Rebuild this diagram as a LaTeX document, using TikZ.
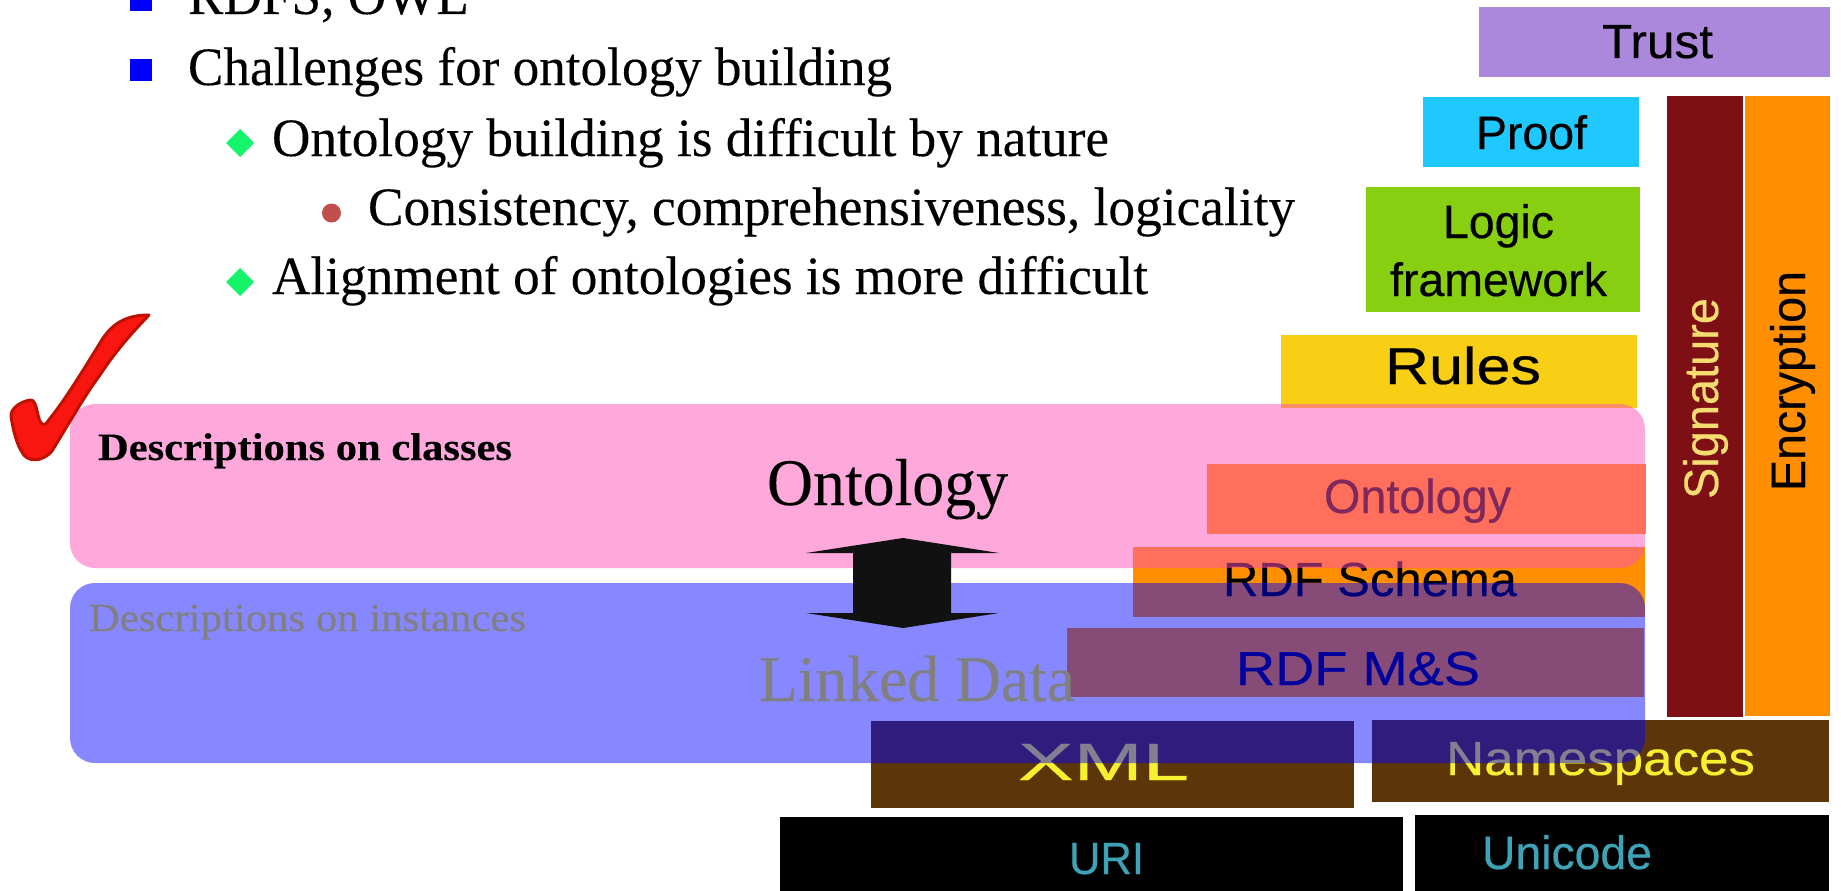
\documentclass[tikz,border=0pt]{standalone}
\usepackage{fontspec}
\usepackage{graphicx}
\setmainfont[FakeBold=0.15]{Liberation Serif}
\newfontfamily\arl[FakeBold=0.4]{Liberation Sans}
\newcommand{\fsz}[1]{\fontsize{#1}{#1}\selectfont}
\newcommand{\fitw}[3]{\resizebox{#1pt}{#2\height}{#3}}
\definecolor{trustc}{HTML}{AC88DC}
\definecolor{proofc}{HTML}{1FC8FF}
\definecolor{logicc}{HTML}{88CF12}
\definecolor{rulesc}{HTML}{F8CF14}
\definecolor{sigc}{HTML}{7E0F14}
\definecolor{orgc}{HTML}{FF8F00}
\definecolor{brownc}{HTML}{5C3608}
\definecolor{pinkc}{HTML}{FF51B9}
\definecolor{sigtxt}{HTML}{F5DC70}
\definecolor{xmltxt}{HTML}{F7F030}
\definecolor{tealtxt}{HTML}{3FA3B8}
\definecolor{greentick}{HTML}{14F56A}
\definecolor{redbullet}{HTML}{C0504D}
\definecolor{tickfill}{HTML}{FA1610}
\definecolor{tickedge}{HTML}{C01000}
\definecolor{arrowc}{HTML}{111111}
\tikzset{
  txt/.style={inner sep=0pt,outer sep=0pt,anchor=base west,text=black},
  body/.style={txt,font=\fsz{53}},
  sans/.style={txt,font=\arl\fsz{46}},
  overlay/.style={rounded corners=25pt,opacity=#1},
  sq/.style={fill=blue},
  dia/.style={fill=greentick},
}
\begin{document}
\begin{tikzpicture}[x=1pt,y=-1pt]
\useasboundingbox (0,0) rectangle (1841,891);
% stack boxes
\fill[trustc] (1479,7) rectangle (1830,77);
\fill[proofc] (1423,97) rectangle (1639,167);
\fill[logicc] (1366,187) rectangle (1640,312);
\fill[rulesc] (1281,335) rectangle (1637,408);
\fill[sigc] (1667,96) rectangle (1743,717);
\fill[orgc] (1745,96) rectangle (1830,716);
\fill[orgc] (1207,464) rectangle (1646,534);
\fill[orgc] (1133,547) rectangle (1645,617);
\fill[orgc] (1067,628) rectangle (1644,697);
\fill[brownc] (871,721) rectangle (1354,808);
\fill[brownc] (1372,720) rectangle (1829,802);
\fill[black] (780,817) rectangle (1403,891);
\fill[black] (1415,815) rectangle (1829,891);
% stack labels
\node[sans] (ttrust) at (1602,58) {\fitw{111}{1.04}{Trust}};
\node[sans,font=\arl\fsz{45}] (tproof) at (1476,149) {\fitw{111}{1.04}{Proof}};
\node[sans,font=\arl\fsz{45}] (tlogic) at (1443,238) {\fitw{111}{1.04}{Logic}};
\node[sans,font=\arl\fsz{45}] (tframe) at (1390,296) {\fitw{217}{1.04}{framework}};
\node[sans,font=\arl\fsz{49}] (trules) at (1385,384) {\fitw{156}{1.06}{Rules}};
\node[sans,rotate=90,text=sigtxt] (tsig) at (1718,499) {\fitw{201}{1.05}{Signature}};
\node[sans,rotate=90] (tenc) at (1805,491) {\fitw{220}{1.05}{Encryption}};
\node[sans] (tont) at (1324,513) {\fitw{187}{1.04}{Ontology}};
\node[sans] (tschema) at (1223,596) {\fitw{294}{1.04}{RDF Schema}};
\node[sans,font=\arl\fsz{45},text={rgb,255:red,0;green,0;blue,70}] (tms) at (1236,685) {\fitw{244}{1.06}{RDF M\&S}};
\node[sans,text=xmltxt] (txml) at (1018,780) {\fitw{171}{1.14}{XML}};
\node[sans,text=xmltxt] (tns) at (1446,775) {\fitw{309}{1.04}{Namespaces}};
\node[sans,font=\arl\fsz{43},text=tealtxt] (turi) at (1069,874) {\fitw{75}{1.05}{URI}};
\node[sans,font=\arl\fsz{45},text=tealtxt] (tuni) at (1482,869) {\fitw{170}{1.04}{Unicode}};
% translucent bands
\fill[pinkc,overlay=0.5] (70,404) rectangle (1645,568);
\fill[blue,overlay=0.47] (70,583) rectangle (1645,763);
% bullets
\fill[sq] (130,-11) rectangle (152,11);
\fill[sq] (130,59) rectangle (152,81);
\fill[dia] (240,129) -- (254,143) -- (240,157) -- (226,143) -- cycle;
\fill[dia] (240,268) -- (254,282) -- (240,296) -- (226,282) -- cycle;
\fill[redbullet] (331.5,213) circle[radius=9.5];
% body text
\node[body] (l0) at (188,14) {\fitw{281}{1.02}{RDFS, OWL}};
\node[body] (l1) at (188,85) {\fitw{704}{1.02}{Challenges for ontology building}};
\node[body] (l2) at (272,156) {\fitw{837}{1.02}{Ontology building is difficult by nature}};
\node[body] (l3) at (368,225) {\fitw{927}{1.02}{Consistency, comprehensiveness, logicality}};
\node[body] (l4) at (272,294) {\fitw{876}{1.02}{Alignment of ontologies is more difficult}};
% band text
\node[txt,font=\fsz{38}\bfseries] (dclass) at (98,460) {\fitw{414}{1.02}{Descriptions on classes}};
\node[txt,font=\fsz{39},text=gray] (dinst) at (89,631) {\fitw{437}{1.02}{Descriptions on instances}};
\node[txt,font=\fsz{64}] (bont) at (767,505) {\fitw{241}{1.04}{Ontology}};
\node[txt,font=\fsz{64},text=gray] (bld) at (759,701) {\fitw{316}{1.02}{Linked Data}};
% double arrow
\fill[arrowc] (903,538) -- (999,553) -- (951,553) -- (951,613) -- (999,613) -- (903,628) -- (806,613) -- (853,613) -- (853,553) -- (806,553) -- cycle;
% check mark
\draw[fill=tickfill,draw=tickedge,line width=3pt,line join=round]
  (149,315) .. controls (128,315) and (112,322) .. (100,343)
  .. controls (82,372) and (65,400) .. (48,421)
  .. controls (44,428) and (40,424) .. (38,415)
  .. controls (36,405) and (34,399) .. (30,400)
  .. controls (20,402) and (11,408) .. (11,416)
  .. controls (13,430) and (17,445) .. (22,452)
  .. controls (26,462) and (42,463) .. (52,451)
  .. controls (68,425) and (85,395) .. (100,375)
  .. controls (115,352) and (130,335) .. cycle;
\end{tikzpicture}
\end{document}
